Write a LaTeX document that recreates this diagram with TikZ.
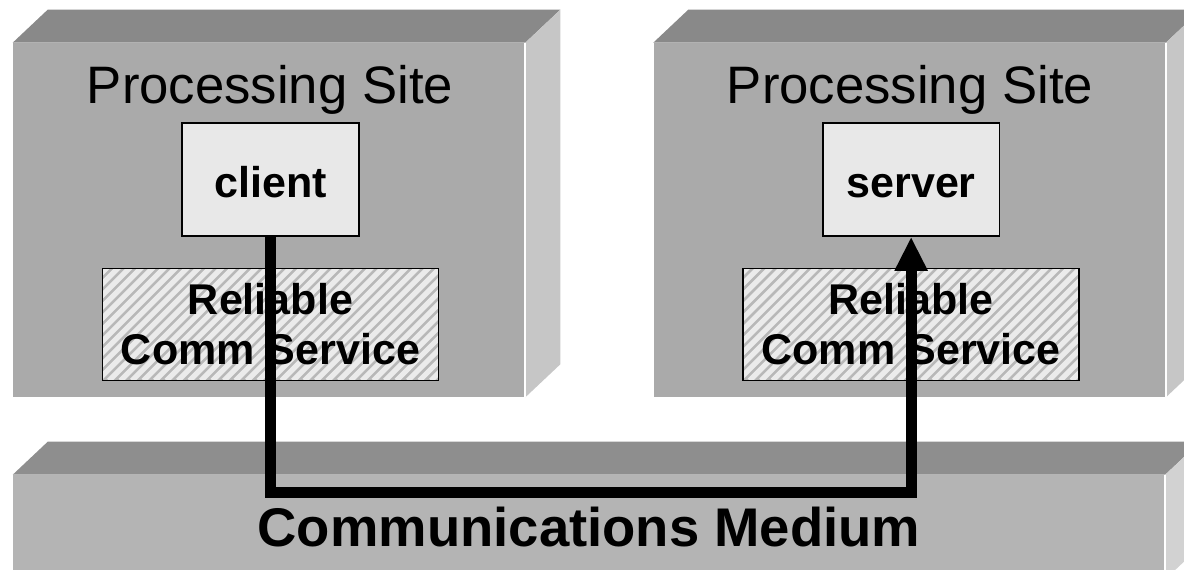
\documentclass[tikz,border=0pt]{standalone}
\usepackage{fontspec}
\setmainfont{Liberation Sans}
\usetikzlibrary{positioning,arrows.meta}
\definecolor{sitefront}{HTML}{AAAAAA}
\definecolor{sitetop}{HTML}{898989}
\definecolor{siteside}{HTML}{C6C6C6}
\definecolor{medfront}{HTML}{B4B4B4}
\definecolor{medtop}{HTML}{8E8E8E}
\definecolor{medside}{HTML}{D2D2D2}
\definecolor{procfill}{HTML}{E8E8E8}
\definecolor{hatchback}{HTML}{B8B8B8}

\begin{document}
\begin{tikzpicture}[x=0.02cm,y=-0.02cm,>={Triangle[width=0.62cm,length=0.68cm]},
    site/.style={rectangle,fill=sitefront,inner sep=0pt,minimum width=10.24cm,minimum height=7.08cm},
    site label/.style={font=\fontsize{30}{36}\selectfont},
    proc node/.style={rectangle,draw,line width=1pt,fill=procfill,minimum width=3.54cm,minimum height=2.26cm,text height=20pt,text depth=0pt,font=\fontsize{24.5}{28}\selectfont\bfseries},
    comm node/.style={rectangle,draw,line width=0.8pt,fill=hatchback,minimum width=6.72cm,minimum height=2.24cm,inner sep=0pt,align=center,font=\fontsize{24.5}{28.5}\selectfont\bfseries,
        path picture={\foreach \k in {0,...,40}
            \draw[white!92!black,line width=3pt] ([xshift=\k*0.23cm-2.4cm]path picture bounding box.south west) -- ++(2.6cm,2.6cm);}},
    medium/.style={rectangle,fill=medfront,inner sep=0pt,minimum width=23.04cm,minimum height=2.08cm,font=\fontsize{31}{36}\selectfont\bfseries},
    flow/.style={->,line width=0.22cm}]

                \useasboundingbox (0,0) rectangle (1184,569);
                \clip (0,0) rectangle (1184,569);

                \node[site] (site1) at (269,220) {};
                \node[site, right=2.56cm of site1] (site2) {};
                \node[medium] (medium) at (589,527) {Communications Medium};

                \foreach \s in {site1,site2}{
                    \fill[sitetop] (\s.north west) -- ++(35,-33) -- ([shift={(35,-33)}]\s.north east) -- (\s.north east) -- cycle;
                    \fill[siteside] (\s.north east) -- ++(35,-33) -- ([shift={(35,-33)}]\s.south east) -- (\s.south east) -- cycle;
                    \draw[white,line width=1pt] (\s.north east) -- (\s.south east);
                }
                \fill[medtop] (medium.north west) -- ++(35,-33) -- ([shift={(35,-33)}]medium.north east) -- (medium.north east) -- cycle;
                \fill[medside] (medium.north east) -- ++(35,-33) -- ([shift={(35,-33)}]medium.south east) -- (medium.south east) -- cycle;
                \draw[white,line width=1pt] (medium.north east) -- (medium.south east);

                \node[site label] (title1) at (270,90) {Processing Site};
                \node[site label] (title2) at (910,90) {Processing Site};

                \node[proc node] (client) at (270.5,179.5) {client};
                \node[proc node, right=9.24cm of client] (server) {server};
                \node[comm node, below=0.62cm of client] (rcs1) {Reliable\\Comm Service};
                \node[comm node, below=0.62cm of server] (rcs2) {Reliable\\Comm Service};

                \draw[flow] (client.south) -- ++(0,256) -| (server.south);

                ;
            \end{tikzpicture}
\end{document}
